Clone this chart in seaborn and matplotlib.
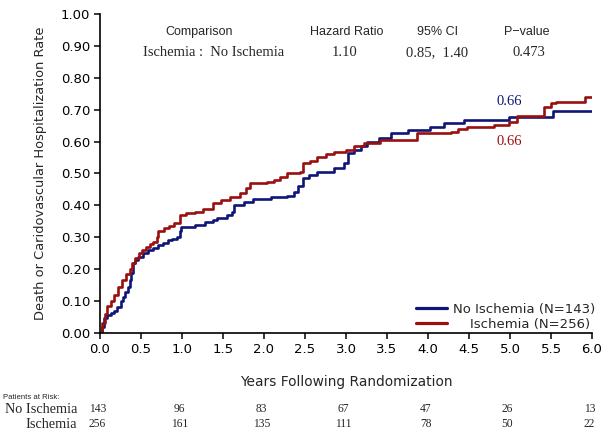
import matplotlib
matplotlib.use("Agg")
import matplotlib.pyplot as plt
import matplotlib.transforms as mtransforms
import seaborn as sns
import pandas as pd
import numpy as np

# ---- data ----
t_noisch = [0, 0.02, 0.05, 0.09, 0.13, 0.17, 0.21, 0.25, 0.28, 0.31, 0.34, 0.36, 0.38, 0.40,
            0.43, 0.46, 0.52, 0.59, 0.65, 0.71, 0.77, 0.83, 0.88, 0.94, 0.97, 0.99, 1.16, 1.28,
            1.38, 1.43, 1.55, 1.61, 1.63, 1.75, 1.87, 2.08, 2.28, 2.36, 2.42, 2.47, 2.55, 2.65,
            2.85, 2.98, 3.02, 3.10, 3.18, 3.26, 3.40, 3.55, 3.75, 4.03, 4.19, 4.44, 4.99, 5.52, 6.02]
v_noisch = [0, 0.02, 0.047, 0.055, 0.062, 0.07, 0.082, 0.10, 0.114, 0.13, 0.145, 0.165, 0.187, 0.218,
            0.23, 0.239, 0.25, 0.26, 0.268, 0.276, 0.283, 0.29, 0.296, 0.302, 0.32, 0.333, 0.338, 0.349,
            0.354, 0.36, 0.37, 0.38, 0.40, 0.41, 0.419, 0.427, 0.43, 0.443, 0.46, 0.485, 0.495, 0.506,
            0.516, 0.532, 0.563, 0.574, 0.587, 0.60, 0.612, 0.626, 0.636, 0.647, 0.659, 0.668, 0.678, 0.697, 0.697]

t_isch = [0, 0.03, 0.06, 0.09, 0.13, 0.17, 0.22, 0.27, 0.32, 0.36, 0.39, 0.43, 0.47, 0.51, 0.56,
          0.61, 0.65, 0.69, 0.71, 0.78, 0.84, 0.90, 0.97, 1.05, 1.16, 1.25, 1.38, 1.47, 1.58, 1.71,
          1.78, 1.83, 2.04, 2.12, 2.20, 2.28, 2.44, 2.48, 2.56, 2.65, 2.75, 2.85, 3.00, 3.10, 3.22,
          3.42, 3.87, 4.28, 4.36, 4.48, 4.81, 4.99, 5.09, 5.42, 5.50, 5.56, 5.91, 6.02]
v_isch = [0, 0.03, 0.06, 0.085, 0.10, 0.12, 0.145, 0.165, 0.185, 0.20, 0.218, 0.235, 0.25, 0.26, 0.27,
          0.28, 0.286, 0.30, 0.32, 0.33, 0.335, 0.345, 0.37, 0.375, 0.38, 0.39, 0.406, 0.417, 0.425, 0.438,
          0.455, 0.469, 0.474, 0.48, 0.49, 0.50, 0.506, 0.532, 0.54, 0.553, 0.56, 0.568, 0.575, 0.585, 0.595,
          0.605, 0.626, 0.631, 0.638, 0.647, 0.652, 0.662, 0.68, 0.709, 0.72, 0.725, 0.739, 0.739]

groups = ["No Ischemia (N=143)", "    Ischemia (N=256)"]
colors = ["#0f1577", "#9a0f0f"]

risk_years = [0, 1, 2, 3, 4, 5, 6]
risk_noisch = [143, 96, 83, 67, 47, 26, 13]
risk_isch = [256, 161, 135, 111, 78, 50, 22]

header = ["Comparison", "Hazard Ratio", "95% CI", "P\u2212value"]
header_x = [1.21, 3.01, 4.12, 5.21]
values_row = ["Ischemia :  No Ischemia", "1.10", "0.85,  1.40", "0.473"]
values_x = [1.38, 2.98, 4.11, 5.23]

end_label = "0.66"

# ---- build frame ----
df = pd.concat([
    pd.DataFrame({"t": t_noisch, "v": v_noisch, "g": groups[0]}),
    pd.DataFrame({"t": t_isch, "v": v_isch, "g": groups[1]}),
], ignore_index=True)

sns.set_style("ticks")
fig = plt.figure(figsize=(6.09, 4.36), dpi=100)
ax = fig.add_axes([100 / 609, 103 / 436, 492 / 609, 319 / 436])

sns.lineplot(data=df, x="t", y="v", hue="g", palette=colors, estimator=None,
             drawstyle="steps-post", linewidth=1.9, ax=ax, legend=True)

ax.set_xlim(0, 6)
ax.set_ylim(0, 1.0)
ax.set_xticks(np.arange(0, 6.01, 0.5))
ax.set_yticks(np.arange(0, 1.001, 0.1))
ax.set_xticklabels([f"{x:.1f}" for x in np.arange(0, 6.01, 0.5)])
ax.set_yticklabels([f"{y:.2f}" for y in np.arange(0, 1.001, 0.1)])
ax.tick_params(direction="out", length=4, width=1.1, labelsize=9.5, colors="black", pad=3)
for s in ["top", "right"]:
    ax.spines[s].set_visible(False)
for s in ["left", "bottom"]:
    ax.spines[s].set_linewidth(1.2)
    ax.spines[s].set_color("black")

ax.set_xlabel("Years Following Randomization", fontsize=9.9, labelpad=14)
ax.set_ylabel("Death or Caridovascular Hospitalization Rate", fontsize=9.4, labelpad=10)

leg = ax.legend(loc="lower right", bbox_to_anchor=(1.022, -0.018), frameon=False,
                fontsize=9.5, handlelength=2.4, handletextpad=0.4, labelspacing=0.15,
                borderaxespad=0.2)
for line in leg.get_lines():
    line.set_linewidth(2.3)

# header table
for txt, x in zip(header, header_x):
    ax.text(x, 0.944, txt, ha="center", va="center", fontsize=9,
            family="Liberation Sans")
for txt, x in zip(values_row, values_x):
    ax.text(x, 0.878, txt, ha="center", va="center", fontsize=10.5,
            family="Liberation Serif")

ax.text(4.99, 0.727, end_label, color=colors[0], ha="center", va="center",
        fontsize=10.5, family="Liberation Serif")
ax.text(4.99, 0.599, end_label, color=colors[1], ha="center", va="center",
        fontsize=10.5, family="Liberation Serif")

# at-risk table
trans = mtransforms.blended_transform_factory(ax.transData, fig.transFigure)
fig.text(3 / 609, 1 - 397 / 436, "Patients at Risk:", fontsize=5.6, ha="left",
         va="center", family="Liberation Sans")
fig.text(77 / 609, 1 - 409 / 436, "No Ischemia", fontsize=10.3, ha="right",
         va="center", family="Liberation Serif")
fig.text(77 / 609, 1 - 424 / 436, "Ischemia", fontsize=10.3, ha="right",
         va="center", family="Liberation Serif")
for yr, a, b in zip(risk_years, risk_noisch, risk_isch):
    ax.text(yr - 0.03, 1 - 409 / 436, str(a), transform=trans, ha="center", va="center",
            fontsize=8.3, family="Liberation Serif")
    ax.text(yr - 0.03, 1 - 424 / 436, str(b), transform=trans, ha="center", va="center",
            fontsize=8.3, family="Liberation Serif")

fig.savefig("out.png", dpi=100)
